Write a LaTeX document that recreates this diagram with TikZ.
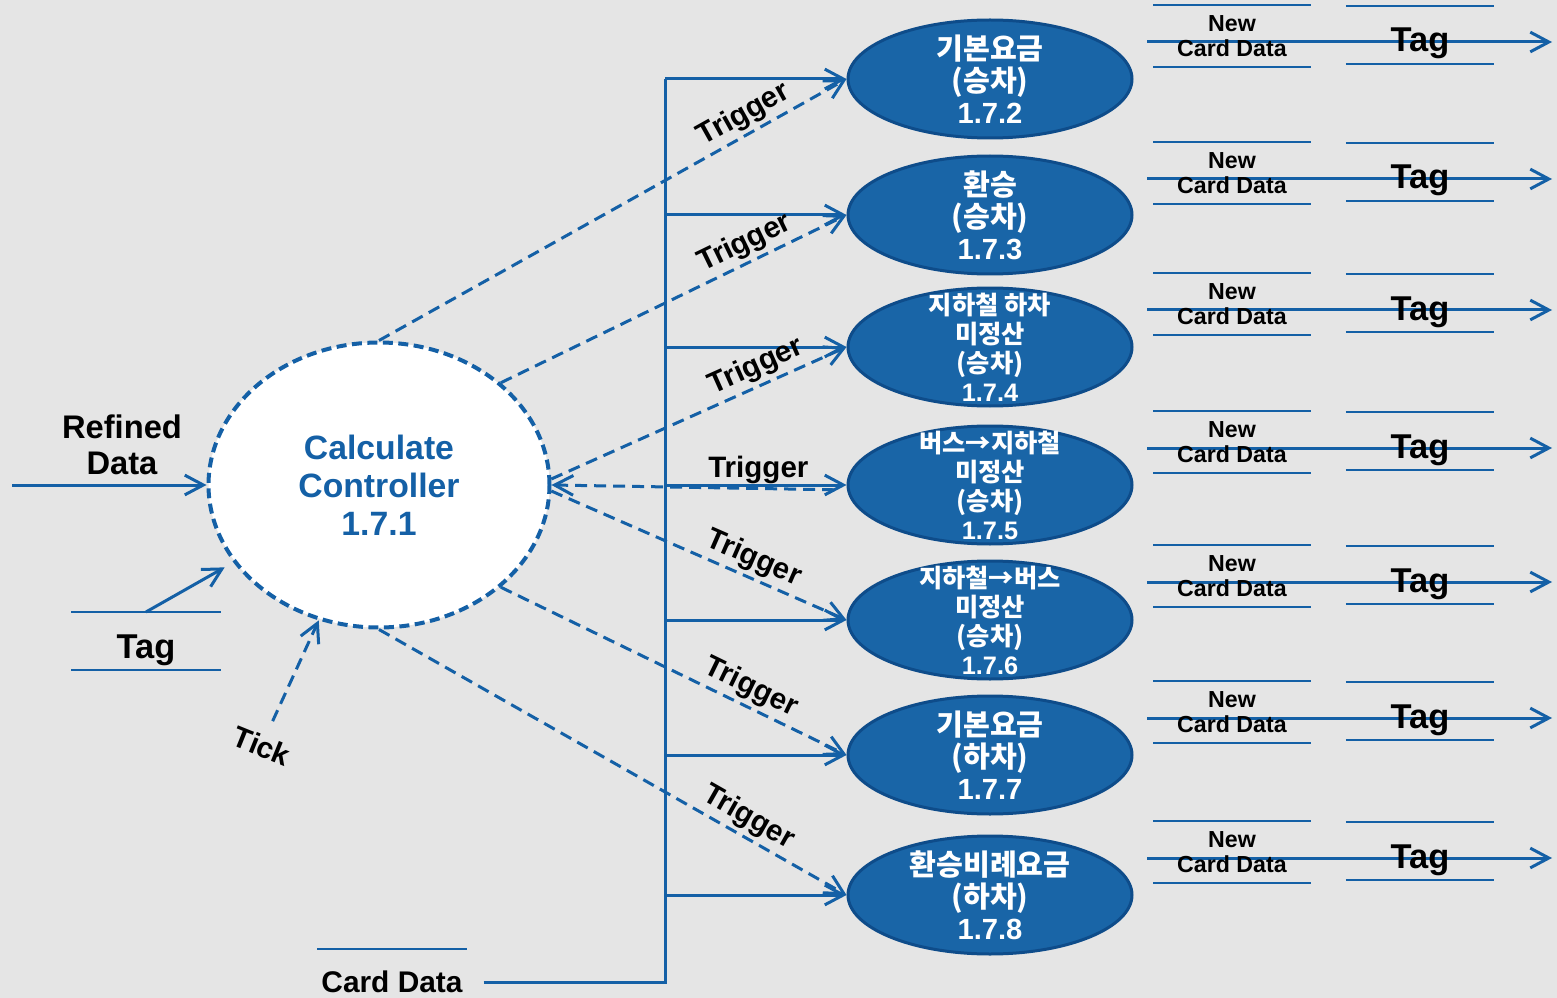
\documentclass[tikz,border=0pt]{standalone}
\usepackage{fontspec}
\setmainfont{Liberation Sans}
\newfontfamily\kr{Noto Sans CJK KR}
\usetikzlibrary{arrows.meta, shapes.geometric}

\definecolor{flowblue}{RGB}{20,96,166}
\definecolor{procfill}{RGB}{25,101,167}
\definecolor{procline}{RGB}{14,76,138}
\definecolor{bggray}{RGB}{229,229,229}

\begin{document}
\begin{tikzpicture}[x = 0.1mm, y = -0.1mm, font = \bfseries,
	flow/.style = {draw = flowblue, line width = 0.3mm, -{Straight Barb[angle = 56:2.1mm]}},
	trig/.style = {flow, dash pattern = on 1.2mm off 0.7mm},
	storeline/.style = {draw = flowblue, line width = 0.2mm},
	store/.style = {inner sep = 0pt, align = center, append after command = {(\tikzlastnode.north west) edge[storeline] (\tikzlastnode.north east) (\tikzlastnode.south west) edge[storeline] (\tikzlastnode.south east)}},
	tagstore/.style = {store, anchor = base, text height = 12.9pt, text depth = 3.1pt, font = \bfseries\fontsize{9.8}{10}\selectfont},
	proc/.style = {ellipse, draw = procline, line width = 0.3mm, fill = procfill, text = white, minimum width = 28.4mm, minimum height = 11.8mm, inner xsep = 0pt, inner ysep = -12pt, align = center, font = \bfseries\fontsize{8.3}{9.1}\selectfont},
	proc4/.style = {proc, font = \bfseries\fontsize{7.2}{8.25}\selectfont},
	lbl/.style = {inner sep = 1pt, font = \bfseries\fontsize{8.4}{9}\selectfont}]

	\useasboundingbox (0, 0) rectangle (1557, 998);
	\fill[bggray] (0, 0) rectangle (1557, 998);

		\node (ctrl) at (379, 485) [ellipse, draw = flowblue, line width = 0.4mm, dash pattern = on 1mm off 0.55mm, fill = white, minimum width = 34.1mm, minimum height = 28.5mm, inner sep = 0pt, align = center, text = flowblue, font = \bfseries\fontsize{9.6}{10.8}\selectfont] {Calculate\\Controller\\1.7.1};

		\node (rd)   at (122, 445) [align = center, font = \bfseries\fontsize{9.3}{10.2}\selectfont] {Refined\\Data};
		\node (tagL) at (146, 658) [tagstore, minimum width = 14.8mm] {Tag};
		\node (tick) at (262, 746) [lbl, rotate = -22] {Tick};
		\node (cd)   at (392, 982) [inner sep = 0pt, minimum width = 14.8mm, minimum height = 6.4mm, font = \bfseries\fontsize{8.5}{9}\selectfont, append after command = {(\tikzlastnode.north west) edge[storeline] (\tikzlastnode.north east)}] {Card Data};
		\coordinate (rdin) at (12, 485);

		\node (p2) at (990,  79) [proc]  {{\kr 기본요금}\\{\kr (승차)}\\1.7.2};
		\node (p3) at (990, 215) [proc]  {{\kr 환승}\\{\kr (승차)}\\1.7.3};
		\node (p4) at (990, 347) [proc4] {{\kr 지하철 하차}\\{\kr 미정산}\\{\kr (승차)}\\1.7.4};
		\node (p5) at (990, 485) [proc4] {{\kr 버스→지하철}\\{\kr 미정산}\\{\kr (승차)}\\1.7.5};
		\node (p6) at (990, 620) [proc4] {{\kr 지하철→버스}\\{\kr 미정산}\\{\kr (승차)}\\1.7.6};
		\node (p7) at (990, 755) [proc]  {{\kr 기본요금}\\{\kr (하차)}\\1.7.7};
		\node (p8) at (990, 895) [proc]  {{\kr 환승비례요금}\\{\kr (하차)}\\1.7.8};

		% inputs of the controller
		\path (rdin) edge [flow] (ctrl.west);
		\path (tagL.north) edge [flow, shorten > = 1mm] (ctrl.208);
		\path (tick.north) edge [trig, shorten < = 1.2mm] (ctrl.-114);

		% card data bus
		\foreach \i/\y in {2/79, 3/215, 4/347, 5/485, 6/620, 7/755, 8/895}
			\coordinate (b\i) at (665, \y);
		\draw [draw = flowblue, line width = 0.3mm, shorten < = 1.7mm] (cd.east) -| (b2);
		\foreach \i in {2, ..., 8}
			\path (b\i) edge [flow] (p\i.west);

		% triggers
		\foreach \from/\pos/\to in {ctrl.north/0.8/p2, ctrl.40/0.73/p3, ctrl.2/0.72/p4, ctrl.-2/0.66/p6, ctrl.-40/0.7/p7, ctrl.south/0.77/p8}
			\path (\from) edge [trig] node[lbl, sloped, above, pos = \pos] {Trigger} (\to.west);
		\path (ctrl.east) edge [trig, {Straight Barb[angle = 56:2.1mm]}-, shorten > = 0.9mm] node[lbl, above, pos = 0.7] {Trigger} (p5.182);

		% new card data to tag
		\foreach \i/\y in {2/42, 3/179, 4/310, 5/448, 6/582, 7/718, 8/858} {
			\coordinate (tin\i)  at (1147, \y);
			\coordinate (tout\i) at (1552, \y);
			\path (tin\i) edge [flow] (tout\i);
			\node (nc\i)  at (1232, \y - 6) [store, minimum width = 15.6mm, minimum height = 6mm, font = \bfseries\fontsize{6.6}{7.1}\selectfont] {New\\Card Data};
			\node (tag\i) at (1420, \y + 10) [tagstore, minimum width = 14.7mm] {Tag};
		}

\end{tikzpicture}
\end{document}
